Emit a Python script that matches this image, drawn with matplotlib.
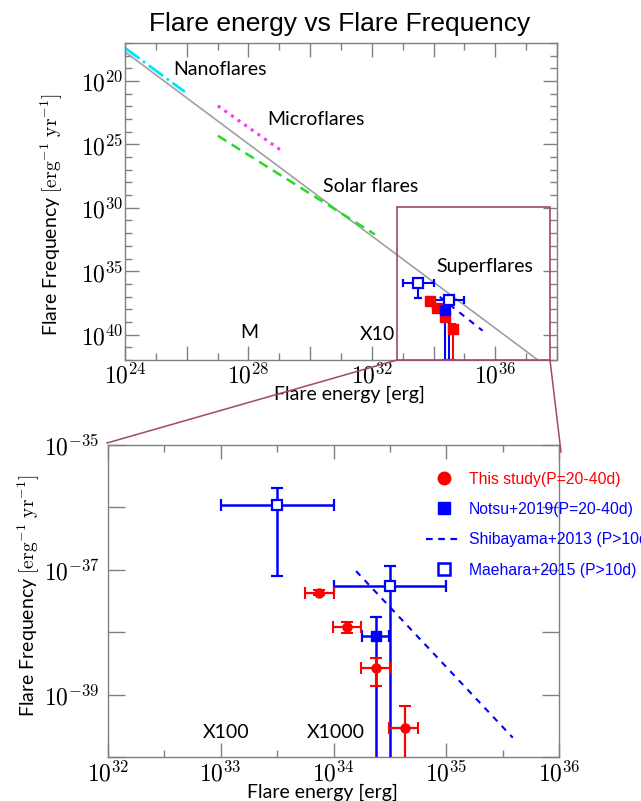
import numpy as np
import matplotlib
matplotlib.use('Agg')
import matplotlib.pyplot as plt
from matplotlib.ticker import FixedLocator, FuncFormatter, NullFormatter
from matplotlib.lines import Line2D
from matplotlib.patches import Rectangle

plt.rcParams['mathtext.fontset'] = 'cm'
plt.rcParams['font.family'] = ['Lato', 'DejaVu Sans']

# ---- data (log10 values) ----
# reference power law and solar flare ranges (top panel)
gray_logE = [24.0, 37.38]
gray_logF = [-17.7, -42.0]
nano_logE = [24.0, 25.94]
nano_logF = [-17.4, -20.86]
micro_logE = [27.01, 29.12]
micro_logF = [-21.96, -25.58]
solar_logE = [27.01, 32.10]
solar_logF = [-24.32, -32.1]

# This study (P=20-40d)
this_logE = [33.87, 34.12, 34.38, 34.63]
this_logE_lo = [33.75, 33.995, 34.245, 34.49]
this_logE_hi = [34.0, 34.245, 34.5, 34.75]
this_logF = [-37.37, -37.91, -38.58, -39.54]
this_logF_hi = [-37.33, -37.83, -38.41, -39.18]
this_logF_lo = [-37.41, -38.02, -38.86, -42.0]

# Notsu+2019 (P=20-40d)
notsu_logE = [34.38]
notsu_logE_lo = [34.25]
notsu_logE_hi = [34.49]
notsu_logF = [-38.06]
notsu_logF_hi = [-37.75]
notsu_logF_lo = [-42.0]

# Maehara+2015 (P>10d)
mae_logE = [33.5, 34.5]
mae_logE_lo = [33.0, 34.0]
mae_logE_hi = [34.0, 35.0]
mae_logF = [-35.96, -37.26]
mae_logF_hi = [-35.69, -36.94]
mae_logF_lo = [-37.1, -42.0]

# Shibayama+2013 (P>10d)
shiba_logE = [34.2, 35.59]
shiba_logF = [-37.02, -39.69]

RED = '#ff0000'
BLUE = '#0000ff'
MAROON = '#9e4a64'
GRAYSP = '#808080'


def p(v):
    return 10.0 ** np.array(v, dtype=float)


def errs(c, lo, hi):
    c, lo, hi = p(c), p(lo), p(hi)
    return [c - lo, hi - c]


fig = plt.figure(figsize=(6.41, 8.01), dpi=100)
ax1 = fig.add_axes([0.1950, 0.5506, 0.6739, 0.3958])
ax2 = fig.add_axes([0.1685, 0.0549, 0.7036, 0.3895])

for ax in (ax1, ax2):
    ax.set_xscale('log')
    ax.set_yscale('log')
    for s in ax.spines.values():
        s.set_color(GRAYSP)
        s.set_linewidth(1.0)

# ---------------- top panel ----------------
ax1.plot(p(gray_logE), p(gray_logF), color='#a0a0a0', lw=1.2)
ax1.plot(p(nano_logE), p(nano_logF), color='#00e5ff', lw=2, ls='-.')
ax1.plot(p(micro_logE), p(micro_logF), color='#ff33ff', lw=2.2, ls=':')
ax1.plot(p(solar_logE), p(solar_logF), color='#22dd22', lw=1.8, ls=(0, (4, 2.5)))
ax1.plot(p(shiba_logE), p(shiba_logF), color=BLUE, lw=1.5, ls=(0, (3, 3)))

ax1.errorbar(p(this_logE), p(this_logF),
             xerr=errs(this_logE, this_logE_lo, this_logE_hi),
             yerr=errs(this_logF, this_logF_lo, this_logF_hi),
             fmt='s', color=RED, ms=6.5, elinewidth=1.5, capsize=2, capthick=1.5)
ax1.errorbar(p(notsu_logE), p(notsu_logF),
             xerr=errs(notsu_logE, notsu_logE_lo, notsu_logE_hi),
             yerr=errs(notsu_logF, notsu_logF_lo, notsu_logF_hi),
             fmt='s', color=BLUE, ms=6.5, elinewidth=1.5, capsize=2, capthick=1.5)
ax1.errorbar(p(mae_logE), p(mae_logF),
             xerr=errs(mae_logE, mae_logE_lo, mae_logE_hi),
             yerr=errs(mae_logF, mae_logF_lo, mae_logF_hi),
             fmt='s', color=BLUE, mfc='white', mec=BLUE, mew=1.6, ms=7.5,
             elinewidth=1.5, capsize=3, capthick=1.5)

ax1.set_xlim(1e24, 1e38)
ax1.set_ylim(1e-42, 1e-17)

ax1.xaxis.set_major_locator(FixedLocator(p(np.arange(24, 39, 2))))
ax1.xaxis.set_minor_locator(FixedLocator(p(np.arange(25, 38, 2))))
ax1.xaxis.set_major_formatter(FuncFormatter(
    lambda v, pos: r'$10^{%d}$' % round(np.log10(v)) if round(np.log10(v)) % 4 == 0 else ''))
ax1.xaxis.set_minor_formatter(NullFormatter())
ax1.yaxis.set_major_locator(FixedLocator(p(np.arange(-40, -19, 5))))
ax1.yaxis.set_minor_locator(FixedLocator(p(np.arange(-42, -16, 1))))
ax1.yaxis.set_major_formatter(FuncFormatter(
    lambda v, pos: r'$10^{%d}$' % round(-np.log10(v))))
ax1.yaxis.set_minor_formatter(NullFormatter())
ax1.tick_params(which='both', direction='in', top=True, right=True, color=GRAYSP,
                labelsize=17, pad=2)
ax1.tick_params(which='major', length=10, width=1.0)
ax1.tick_params(which='minor', length=5, width=1.0)
ax1.tick_params(axis='y', which='both', pad=1)

ax1.text(p(25.56), p(-19.1), 'Nanoflares', fontsize=14, va='center')
ax1.text(p(28.6), p(-23.06), 'Microflares', fontsize=14, va='center')
ax1.text(p(30.42), p(-28.3), 'Solar flares', fontsize=14, va='center')
ax1.text(p(34.1), p(-34.6), 'Superflares', fontsize=14, va='center')
ax1.text(p(28.02), p(-39.8), 'M', fontsize=14, va='center', ha='center')
ax1.text(p(32.17), p(-40.0), 'X10', fontsize=14, va='center', ha='center')

ax1.set_xlabel('Flare energy [erg]', fontsize=14)
ax1.set_ylabel(r'Flare Frequency $[\mathrm{erg}^{-1}\ \mathrm{yr}^{-1}]$', fontsize=14)
ax1.xaxis.set_label_coords(0.52, -0.08)
ax1.yaxis.set_label_coords(-0.14, 0.457)

ax1.add_patch(Rectangle((0.63, 0.0), 0.354, 0.483, transform=ax1.transAxes,
                        fill=False, edgecolor=MAROON, lw=1.2, clip_on=False, zorder=5))

# ---------------- bottom panel ----------------
ax2.plot(p(shiba_logE), p(shiba_logF), color=BLUE, lw=1.5, ls=(0, (3, 3)))
ax2.errorbar(p(mae_logE), p(mae_logF),
             xerr=errs(mae_logE, mae_logE_lo, mae_logE_hi),
             yerr=errs(mae_logF, mae_logF_lo, mae_logF_hi),
             fmt='s', color=BLUE, mfc='white', mec=BLUE, mew=1.6, ms=7.5,
             elinewidth=1.8, capsize=4, capthick=1.6, zorder=3)
ax2.errorbar(p(notsu_logE), p(notsu_logF),
             xerr=errs(notsu_logE, notsu_logE_lo, notsu_logE_hi),
             yerr=errs(notsu_logF, notsu_logF_lo, notsu_logF_hi),
             fmt='s', color=BLUE, ms=7, elinewidth=1.8, capsize=4, capthick=1.6, zorder=3)
ax2.errorbar(p(this_logE), p(this_logF),
             xerr=errs(this_logE, this_logE_lo, this_logE_hi),
             yerr=errs(this_logF, this_logF_lo, this_logF_hi),
             fmt='o', color=RED, ms=6.5, elinewidth=1.6, capsize=4, capthick=1.5, zorder=4)

ax2.set_xlim(1e32, 1e36)
ax2.set_ylim(1e-40, 1e-35)
ax2.xaxis.set_major_locator(FixedLocator(p(np.arange(32, 37, 1))))
ax2.xaxis.set_minor_locator(FixedLocator(p(np.arange(32.5, 36, 1))))
ax2.xaxis.set_major_formatter(FuncFormatter(lambda v, pos: r'$10^{%d}$' % round(np.log10(v))))
ax2.xaxis.set_minor_formatter(NullFormatter())
ax2.yaxis.set_major_locator(FixedLocator(p(np.arange(-40, -34, 1))))
ax2.yaxis.set_minor_locator(FixedLocator([]))
ax2.yaxis.set_major_formatter(FuncFormatter(
    lambda v, pos: r'$10^{%d}$' % round(np.log10(v)) if round(np.log10(v)) % 2 != 0 else ''))
ax2.tick_params(which='both', direction='in', top=True, right=True, color=GRAYSP,
                labelsize=17, pad=2)
ax2.tick_params(which='major', length=10, width=1.0)
ax2.tick_params(which='minor', length=5, width=1.0)
ax2.tick_params(axis='y', which='major', length=12, pad=6)

ax2.text(p(33.05), p(-39.6), 'X100', fontsize=14, va='center', ha='center')
ax2.text(p(34.02), p(-39.6), 'X1000', fontsize=14, va='center', ha='center')

ax2.set_xlabel('Flare energy [erg]', fontsize=14)
ax2.set_ylabel(r'Flare Frequency $[\mathrm{erg}^{-1}\ \mathrm{yr}^{-1}]$', fontsize=14)
ax2.xaxis.set_label_coords(0.475, -0.085)
ax2.yaxis.set_label_coords(-0.146, 0.516)

handles = [
    Line2D([], [], color=RED, marker='o', ls='none', ms=9),
    Line2D([], [], color=BLUE, marker='s', ls='none', ms=9),
    Line2D([], [], color=BLUE, ls=(0, (3, 2.5)), lw=1.6),
    Line2D([], [], color=BLUE, marker='s', mfc='white', mew=1.8, ls='none', ms=9),
]
labels = ['This study(P=20-40d)', 'Notsu+2019(P=20-40d)',
          'Shibayama+2013 (P>10d)', 'Maehara+2015 (P>10d)']
leg = ax2.legend(handles, labels, loc='upper left', bbox_to_anchor=(0.705, 0.915),
                 frameon=False, borderpad=0, borderaxespad=0, handlelength=2.3,
                 handletextpad=0.45, labelspacing=0.98,
                 prop={'family': 'Liberation Sans', 'size': 11.3})
leg.get_texts()[0].set_color(RED)
for t in leg.get_texts()[1:]:
    t.set_color(BLUE)

# connecting lines between the zoom box and the lower panel
W, H = 641.0, 801.0
fig.add_artist(Line2D([397 / W, 107 / W], [1 - 360 / H, 1 - 443 / H],
                      transform=fig.transFigure, color=MAROON, lw=1.1))
fig.add_artist(Line2D([550 / W, 561 / W], [1 - 360 / H, 1 - 452 / H],
                      transform=fig.transFigure, color=MAROON, lw=1.1))

fig.text(340 / W, 1 - 24 / H, 'Flare energy vs Flare Frequency', ha='center', va='center',
         fontsize=19, family='Liberation Sans')

fig.savefig('out.png', dpi=100)
